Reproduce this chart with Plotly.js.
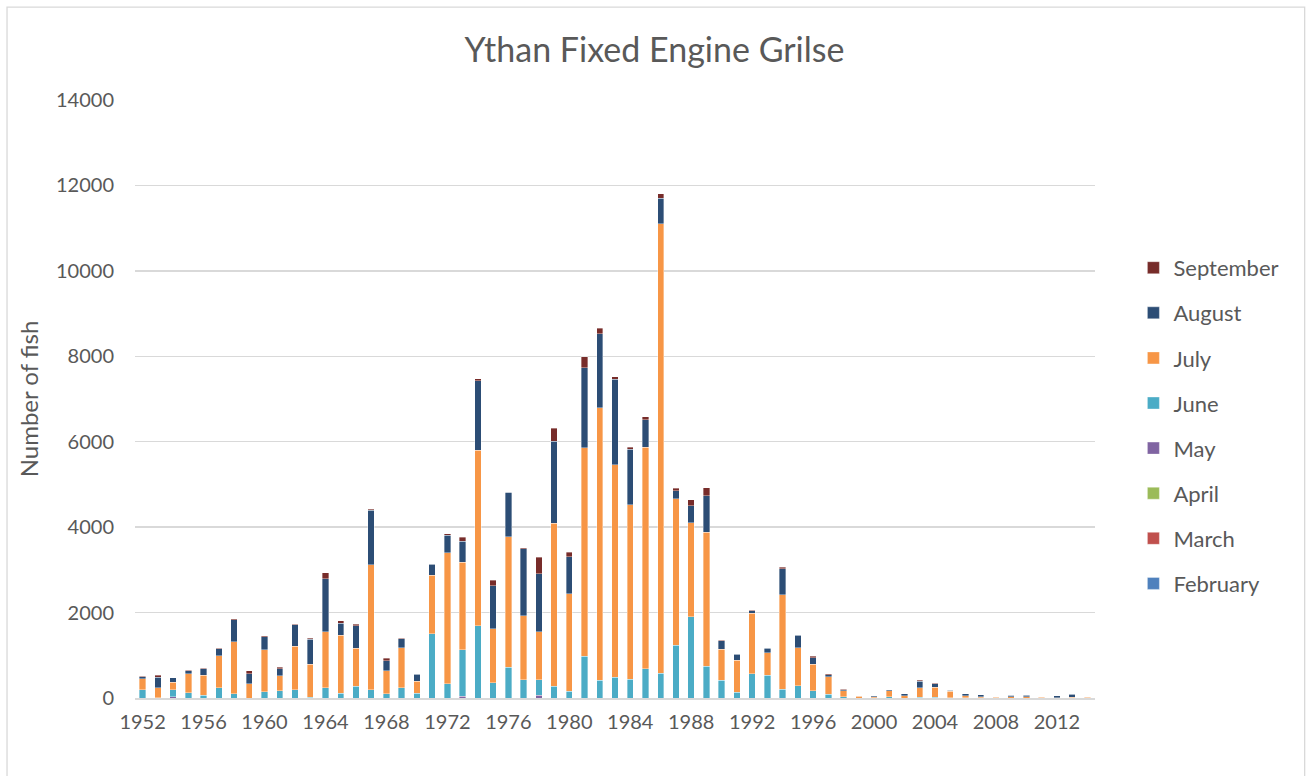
<!DOCTYPE html>
<html>
<head>
<meta charset="utf-8">
<script src="https://cdn.plot.ly/plotly-3.0.1.min.js"></script>
<style>html,body{margin:0;padding:0;background:#fff;}#chart{width:1309px;height:776px;}</style>
</head>
<body>
<div id="chart"></div>
<script>
const years = [];
for (let y = 1952; y <= 2014; y++) years.push(String(y));

const tickYears = ["1952","1956","1960","1964","1968","1972","1976","1980","1984","1988","1992","1996","2000","2004","2008","2012"];

const february = new Array(63).fill(0);
const march = new Array(63).fill(0);
const april = new Array(63).fill(0);
const may = [0,0,30,0,0,0,0,0,0,0, 0,0,0,0,0,0,0,0,0,0, 0,40,0,0,0,0,60,0,0,0, 0,0,0,0,0,0,0,0,0,0, 0,0,0,0,0,0,0,0,0,0, 0,0,0,0,0,0,0,0,0,0, 0,0,0];
const june = [190,10,158,125,70,242,94,0,148,164, 188,20,242,109,281,188,102,242,117,1500, 336,1085,1688,352,719,430,370,275,160,975, 420,490,440,690,575,1240,1905,740,420,135, 564,533,204,282,165,86,24,0,5,31, 0,15,23,5,5,5,0,0,0,0, 0,0,0];
const july = [257,232,179,445,461,750,1226,336,985,359, 1023,769,1305,1360,883,2929,539,930,281,1375, 3064,2055,4117,1265,3054,1492,1125,3815,2280,4885, 6370,4966,4080,5178,10527,3423,2203,3146,722,745, 1420,525,2211,894,627,408,141,45,30,141, 58,227,227,151,50,25,15,30,31,15, 10,20,20];
const august = [55,242,102,70,149,164,516,234,297,157, 500,586,1250,281,524,1274,234,211,157,255, 410,484,1625,1016,1040,1578,1359,1920,870,1877, 1735,2006,1309,650,603,190,396,848,198,145, 54,102,611,290,149,55,31,5,12,16, 36,156,78,24,46,45,16,40,39,16, 37,70,5];
const september = [8,47,0,10,15,14,14,63,30,39, 16,23,133,55,39,23,55,15,15,8, 31,94,39,125,8,16,383,300,105,250, 135,56,47,72,103,56,135,191,16,16, 16,16,39,16,39,23,8,5,5,0, 8,23,15,0,0,0,0,0,8,0, 0,4,6];

const seriesNames = ["February","March","April","May","June","July","August","September"];
const seriesData = [february, march, april, may, june, july, august, september];
const seriesColors = ["#4F81BD","#C0504D","#9BBB59","#8064A2","#4BACC6","#F79646","#2C4D75","#772C2A"];

const FONT = "Lato, 'Open Sans', sans-serif";
const traces = seriesNames.map((n, i) => ({
  type: "bar",
  name: n,
  x: years,
  y: seriesData[i],
  legendgroup: n,
  legendrank: 1000 - i,
  marker: {color: seriesColors[i], line: {color: "rgba(255,255,255,0.6)", width: 0.6}},
  hoverinfo: "x+y+name"
}));

const layout = {
  width: 1309, height: 776,
  margin: {l: 135, r: 214, t: 100, b: 78},
  paper_bgcolor: "#ffffff",
  plot_bgcolor: "#ffffff",
  barmode: "stack",
  bargap: 0.58,
  font: {family: FONT, color: "#595959", size: 20},
  title: {text: "Ythan Fixed Engine Grilse", font: {family: FONT, size: 34, color: "#595959"}, x: 0.5, xref: "container", xanchor: "center", y: 0.935, yanchor: "middle"},
  xaxis: {
    type: "category",
    tickmode: "array", tickvals: tickYears, ticktext: tickYears,
    showgrid: false, showline: true, linecolor: "#D9D9D9", linewidth: 2,
    ticks: "", tickfont: {size: 20, color: "#595959"},
    ticklabelstandoff: 5,
    fixedrange: true
  },
  yaxis: {
    range: [0, 14000], dtick: 2000, tick0: 0, tickformat: "d",
    showgrid: true, gridcolor: "#D9D9D9", gridwidth: 1.4,
    zeroline: false, showline: false, ticks: "",
    tickfont: {size: 20, color: "#595959"},
    ticklabelstandoff: 20,
    title: {text: "Number of fish", font: {size: 24, color: "#595959"}, standoff: 10},
    fixedrange: true
  },
  showlegend: true,
  legend: {
    x: 1.04, xanchor: "left", y: 0.455, yanchor: "middle",
    traceorder: "grouped", tracegroupgap: 13.5,
    font: {size: 22, color: "#595959"},
    bgcolor: "rgba(0,0,0,0)", itemwidth: 30
  },
  shapes: [{
    type: "rect", xref: "paper", yref: "paper",
    x0: -0.1333, x1: 1.2184, y0: -0.15, y1: 1.1553,
    line: {color: "#D9D9D9", width: 1.3}, fillcolor: "rgba(0,0,0,0)", layer: "below"
  }]
};

Plotly.newPlot("chart", traces, layout, {displayModeBar: false, staticPlot: true});
</script>
</body>
</html>
